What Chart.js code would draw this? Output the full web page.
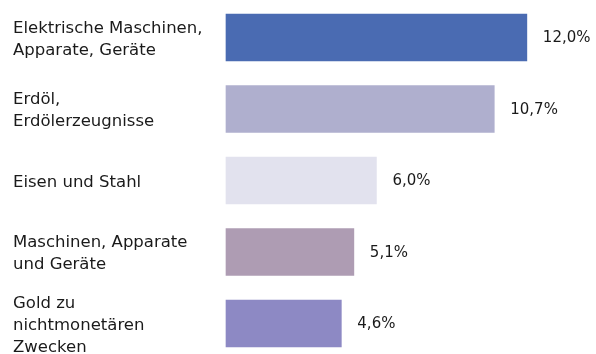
<!DOCTYPE html>
<html lang="de">
<head>
  <meta charset="UTF-8">
  <title>Exportgüter</title>
  <script src="https://cdn.jsdelivr.net/npm/chart.js"></script>
  <style>
    body { margin: 0; background: #fff; }
    #wrap { width: 596px; height: 354px; position: relative; }
  </style>
</head>
<body>
  <div id="wrap"><canvas id="chart"></canvas></div>

  <script>
    // Warengruppen (mehrzeilige Beschriftung) und Anteile in Prozent
    const categories = [
      ['Elektrische Maschinen,', 'Apparate, Geräte'],
      ['Erdöl,', 'Erdölerzeugnisse'],
      ['Eisen und Stahl'],
      ['Maschinen, Apparate', 'und Geräte'],
      ['Gold zu', 'nichtmonetären', 'Zwecken']
    ];
    const shares = [12.0, 10.7, 6.0, 5.1, 4.6];
    const barColors = ['#4a6bb2', '#afafce', '#e2e2ee', '#ae9cb3', '#8d89c4'];

    const FONT = '"DejaVu Sans", sans-serif';

    // Wert rechts neben jeden Balken schreiben
    const valueLabels = {
      id: 'valueLabels',
      afterDatasetsDraw(chart) {
        const ctx = chart.ctx;
        const meta = chart.getDatasetMeta(0);
        ctx.save();
        ctx.font = '15px ' + FONT;
        ctx.fillStyle = '#1a1a1a';
        ctx.textAlign = 'left';
        ctx.textBaseline = 'middle';
        meta.data.forEach((bar, i) => {
          const txt = shares[i].toFixed(1).replace('.', ',') + '%';
          ctx.fillText(txt, bar.x + 16, bar.y + 1);
        });
        ctx.restore();
      }
    };

    new Chart(document.getElementById('chart'), {
      type: 'bar',
      data: {
        labels: categories,
        datasets: [{
          data: shares,
          backgroundColor: barColors,
          barThickness: 47,
          clip: false
        }]
      },
      options: {
        indexAxis: 'y',
        responsive: true,
        maintainAspectRatio: false,
        animation: false,
        layout: { padding: { left: 13, right: 19, top: 37.5, bottom: 30.5 } },
        plugins: {
          legend: { display: false },
          tooltip: { enabled: false }
        },
        scales: {
          x: { display: false, min: 0, max: 14 },
          y: {
            offset: false,
            grid: { display: false },
            border: { display: false },
            ticks: {
              crossAlign: 'far',
              labelOffset: 2,
              color: '#1a1a1a',
              font: { family: FONT, size: 16.5, lineHeight: 1.33 }
            },
            afterFit(scale) { scale.width = 213; }
          }
        }
      },
      plugins: [valueLabels]
    });
  </script>
</body>
</html>
